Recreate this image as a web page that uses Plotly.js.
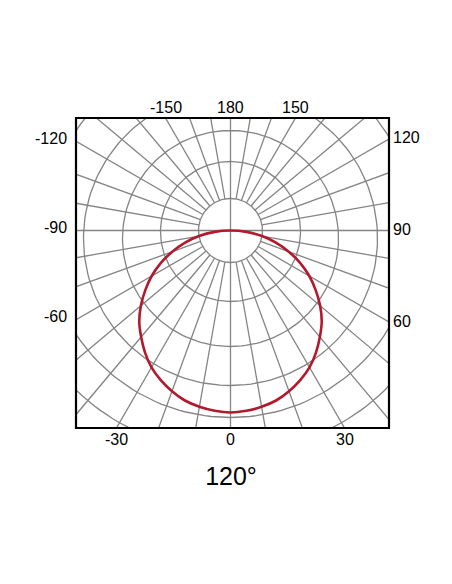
<!DOCTYPE html>
<html><head><meta charset="utf-8">
<script src="https://cdn.plot.ly/plotly-3.0.1.min.js"></script>
<style>html,body{margin:0;padding:0;background:#fff}</style>
</head><body><div id="chart" style="width:452px;height:584px"></div>
<script>
// Relative luminous intensity read at gamma angles (0 = straight down)
const gammaAngles = [-90,-85,-80,-75,-70,-65,-60,-55,-50,-45,-40,-35,-30,-25,-20,-15,-10,-5,0,5,10,15,20,25,30,35,40,45,50,55,60,65,70,75,80,85,90];
const intensity   = [0,16,32,47,62,77,91,104,117,129,139,149,158,165,171,176,179,181,182,181,179,176,171,165,158,149,139,129,117,104,91,77,62,47,32,16,0];
// Radial grid rings (first ring is the central hole) and their downward centre offset
const ringValues = [32,70,108,147,185,222];
const ringOffset = [0,1,8,8,2,0];
// Angular grid spokes, every 10 degrees
const spokeAngles = [0,10,20,30,40,50,60,70,80,90,100,110,120,130,140,150,160,170,180,190,200,210,220,230,240,250,260,270,280,290,300,310,320,330,340,350];
// Angle labels around the frame
const labelAngles = [-150,180,150,-120,-90,-60,120,90,60,-30,0,30];
const labelTexts  = ['-150','180','150','-120','-90','-60','120','90','60','-30','0','30'];
const beamAngleLabel = '120°';

const X0 = -154.5, X1 = 158.5, Y0 = -197.5, Y1 = 112.5;
const rad = d => d * Math.PI / 180;
const px = (r, a) => r * Math.sin(rad(a));
const py = (r, a) => -r * Math.cos(rad(a));

// rings
const rx = [], ry = [];
ringValues.forEach((r, k) => {
  for (let a = 0; a <= 360; a += 2) { rx.push(px(r, a)); ry.push(py(r, a) - ringOffset[k]); }
  rx.push(null); ry.push(null);
});
// spokes
const sx = [], sy = [];
spokeAngles.forEach(a => {
  const r0 = (a % 90 === 0) ? 0 : ringValues[0];
  sx.push(px(r0, a), px(400, a), null);
  sy.push(py(r0, a), py(400, a), null);
});
// curve
const cx = gammaAngles.map((a, i) => px(intensity[i], a));
const cy = gammaAngles.map((a, i) => py(intensity[i], a));

const grid = {color: '#848484', width: 1.3};
const traces = [
  {x: rx, y: ry, mode: 'lines', line: grid, hoverinfo: 'skip', type: 'scatter'},
  {x: sx, y: sy, mode: 'lines', line: grid, hoverinfo: 'skip', type: 'scatter'},
  {x: cx, y: cy, mode: 'lines', line: {color: '#b3192c', width: 2.6, shape: 'spline', smoothing: 1}, type: 'scatter'}
];

// labels
const annotations = labelAngles.map((a, i) => {
  const dx = Math.sin(rad(a)), dy = -Math.cos(rad(a));
  const cand = [];
  if (dx > 1e-9) cand.push({t: X1 / dx, side: 'right'});
  if (dx < -1e-9) cand.push({t: X0 / dx, side: 'left'});
  if (dy > 1e-9) cand.push({t: Y1 / dy, side: 'top'});
  if (dy < -1e-9) cand.push({t: Y0 / dy, side: 'bottom'});
  cand.sort((p, q) => p.t - q.t);
  const c = cand[0];
  const x = dx * c.t, y = dy * c.t;
  const ann = {text: labelTexts[i], showarrow: false, xref: 'paper', yref: 'paper',
    x: (x - X0) / (X1 - X0), y: (y - Y0) / (Y1 - Y0),
    font: {family: 'Liberation Sans, Arial, sans-serif', size: 16, color: '#000'}};
  if (c.side === 'top') { ann.yanchor = 'middle'; ann.xanchor = 'center'; ann.yshift = 11; }
  if (c.side === 'bottom') { ann.yanchor = 'middle'; ann.xanchor = 'center'; ann.yshift = -11; }
  if (c.side === 'left') { ann.xanchor = 'right'; ann.yanchor = 'middle'; ann.xshift = -7; ann.yshift = 3; }
  if (c.side === 'right') { ann.xanchor = 'left'; ann.yanchor = 'middle'; ann.xshift = 2; ann.yshift = 1; }
  return ann;
});

const layout = {
  width: 452, height: 584,
  margin: {l: 76, r: 63, t: 118, b: 156},
  paper_bgcolor: '#fff', plot_bgcolor: '#fff',
  showlegend: false,
  xaxis: {range: [X0, X1], visible: false, fixedrange: true},
  yaxis: {range: [Y0, Y1], visible: false, fixedrange: true},
  shapes: [{type: 'rect', xref: 'paper', yref: 'paper', x0: 0, x1: 1, y0: 0, y1: 1,
    line: {color: '#000', width: 2.2}, layer: 'above'}],
  annotations: annotations,
  title: {text: beamAngleLabel, x: 231 / 452, xanchor: 'center', xref: 'container',
    y: 1 - 476 / 584, yref: 'container', yanchor: 'middle',
    font: {family: 'Liberation Sans, Arial, sans-serif', size: 25, color: '#000'}}
};
Plotly.newPlot('chart', traces, layout, {displayModeBar: false, staticPlot: true});
</script></body></html>
